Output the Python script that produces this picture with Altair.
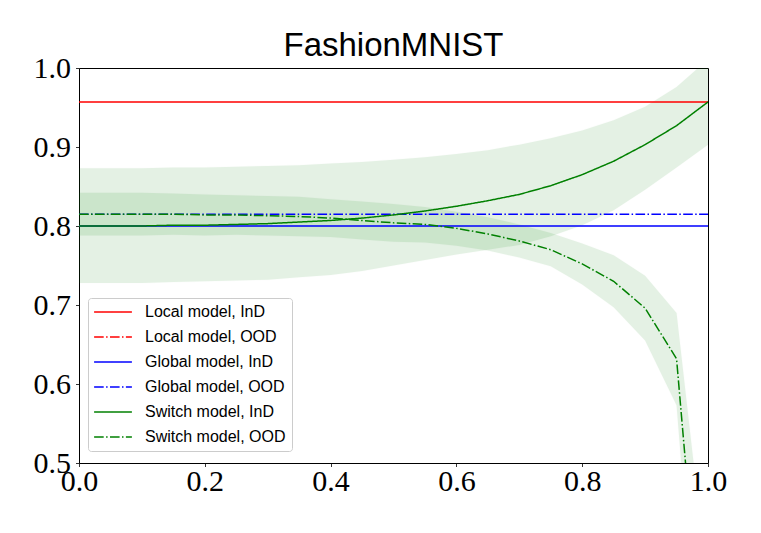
import altair as alt
import pandas as pd

# ---- data ----
x_grid = [0.00, 0.05, 0.10, 0.15, 0.20, 0.25, 0.30, 0.35, 0.40, 0.45, 0.50,
          0.55, 0.60, 0.65, 0.70, 0.75, 0.80, 0.85, 0.90, 0.95, 1.00]

switch_ind = [0.800, 0.800, 0.800, 0.801, 0.801, 0.802, 0.803, 0.805, 0.807, 0.810, 0.814,
              0.819, 0.825, 0.832, 0.840, 0.851, 0.865, 0.882, 0.903, 0.927, 0.957]
switch_ind_lo = [0.728, 0.728, 0.728, 0.729, 0.730, 0.731, 0.732, 0.735, 0.738, 0.743, 0.750,
                 0.757, 0.764, 0.770, 0.776, 0.787, 0.801, 0.820, 0.846, 0.874, 0.903]
switch_ind_hi = [0.873, 0.873, 0.873, 0.874, 0.874, 0.875, 0.876, 0.877, 0.879, 0.881, 0.884,
                 0.887, 0.891, 0.896, 0.903, 0.911, 0.921, 0.934, 0.951, 0.976, 1.011]

switch_ood = [0.815, 0.815, 0.815, 0.815, 0.814, 0.814, 0.813, 0.812, 0.810, 0.807, 0.804,
              0.802, 0.797, 0.790, 0.781, 0.770, 0.752, 0.730, 0.696, 0.632, 0.170]
switch_ood_lo = [0.788, 0.788, 0.788, 0.789, 0.788, 0.789, 0.788, 0.787, 0.786, 0.783, 0.780,
                 0.779, 0.775, 0.769, 0.760, 0.749, 0.726, 0.697, 0.655, 0.573, 0.080]
switch_ood_hi = [0.842, 0.842, 0.842, 0.841, 0.840, 0.839, 0.838, 0.837, 0.834, 0.831, 0.828,
                 0.824, 0.818, 0.811, 0.802, 0.791, 0.778, 0.763, 0.737, 0.690, 0.340]

local_ind = 0.957
local_ood = 0.170
global_ind = 0.800
global_ood = 0.815

series_names = ["Local model, InD", "Local model, OOD",
                "Global model, InD", "Global model, OOD",
                "Switch model, InD", "Switch model, OOD"]
series_colors = ["#ff0000", "#ff0000", "#0000ff", "#0000ff", "#008000", "#008000"]
solid = [1, 0]
dashdot = [9.6, 2.4, 1.5, 2.4]
series_dash = [solid, dashdot, solid, dashdot, solid, dashdot]

x_ticks = [0.0, 0.2, 0.4, 0.6, 0.8, 1.0]
y_ticks = [0.5, 0.6, 0.7, 0.8, 0.9, 1.0]

# ---- build tables ----
rows = []
for name, val in zip(series_names[:4], [local_ind, local_ood, global_ind, global_ood]):
    for xv in (x_grid[0], x_grid[-1]):
        rows.append({"series": name, "x": xv, "y": val})
for xv, a, b in zip(x_grid, switch_ind, switch_ood):
    rows.append({"series": series_names[4], "x": xv, "y": a})
    rows.append({"series": series_names[5], "x": xv, "y": b})
lines_df = pd.DataFrame(rows)

band_rows = []
for xv, lo, hi in zip(x_grid, switch_ind_lo, switch_ind_hi):
    band_rows.append({"band": "ind", "x": xv, "lo": lo, "hi": hi})
for xv, lo, hi in zip(x_grid, switch_ood_lo, switch_ood_hi):
    band_rows.append({"band": "ood", "x": xv, "lo": lo, "hi": hi})
band_df = pd.DataFrame(band_rows)

x_scale = alt.Scale(domain=[0, 1], nice=False, zero=False)
y_scale = alt.Scale(domain=[0.5, 1.0], nice=False, zero=False)
x_axis = alt.Axis(values=x_ticks, format=".1f", title=None, grid=False, labelPadding=0,
                  labelFlush=False, labelOverlap=False)
y_axis = alt.Axis(values=y_ticks, format=".1f", title=None, grid=False, labelPadding=5,
                  labelFlush=False, labelOverlap=False)

bands = alt.Chart(band_df).mark_area(
    clip=True, color="#008000", opacity=0.1, stroke="#008000", strokeOpacity=0.1, strokeWidth=1
).encode(
    x=alt.X("x:Q", scale=x_scale, axis=x_axis),
    y=alt.Y("lo:Q", scale=y_scale, axis=y_axis),
    y2="hi:Q",
    detail="band:N",
)

lines = alt.Chart(lines_df).mark_line(clip=True, strokeWidth=1.5).encode(
    x=alt.X("x:Q", scale=x_scale, axis=x_axis),
    y=alt.Y("y:Q", scale=y_scale, axis=y_axis),
    color=alt.Color("series:N", sort=series_names,
                    scale=alt.Scale(domain=series_names, range=series_colors),
                    legend=alt.Legend(
                        title=None, orient="none", legendX=9, legendY=230,
                        symbolType="M-2.7,0H2.7", symbolSize=196, symbolStrokeWidth=1.5,
                        symbolOffset=11,
                        labelFont="Liberation Sans", labelFontSize=16, labelColor="#000000",
                        labelOffset=24, rowPadding=9, padding=6,
                        strokeColor="#cccccc", fillColor="rgba(255,255,255,0.8)",
                        cornerRadius=3)),
    strokeDash=alt.StrokeDash("series:N", sort=series_names,
                              scale=alt.Scale(domain=series_names, range=series_dash)),
)

chart = alt.layer(bands, lines).properties(
    width=629, height=395,
    title=alt.TitleParams("FashionMNIST", font="Liberation Sans", fontSize=33,
                          fontWeight="normal", color="#000000", anchor="middle",
                          offset=-10),
    padding={"left": 71, "top": 60, "right": 40, "bottom": 55},
    autosize=alt.AutoSizeParams(type="none"),
).configure_view(
    stroke="#000000", strokeWidth=1
).configure_axis(
    domain=False, ticks=True, tickColor="#000000", tickSize=3.5, tickWidth=0.8,
    labelFont="Liberation Serif", labelFontSize=30, labelColor="#000000",
)

chart.save("out.html", embed_options={"renderer": "svg", "actions": False})
